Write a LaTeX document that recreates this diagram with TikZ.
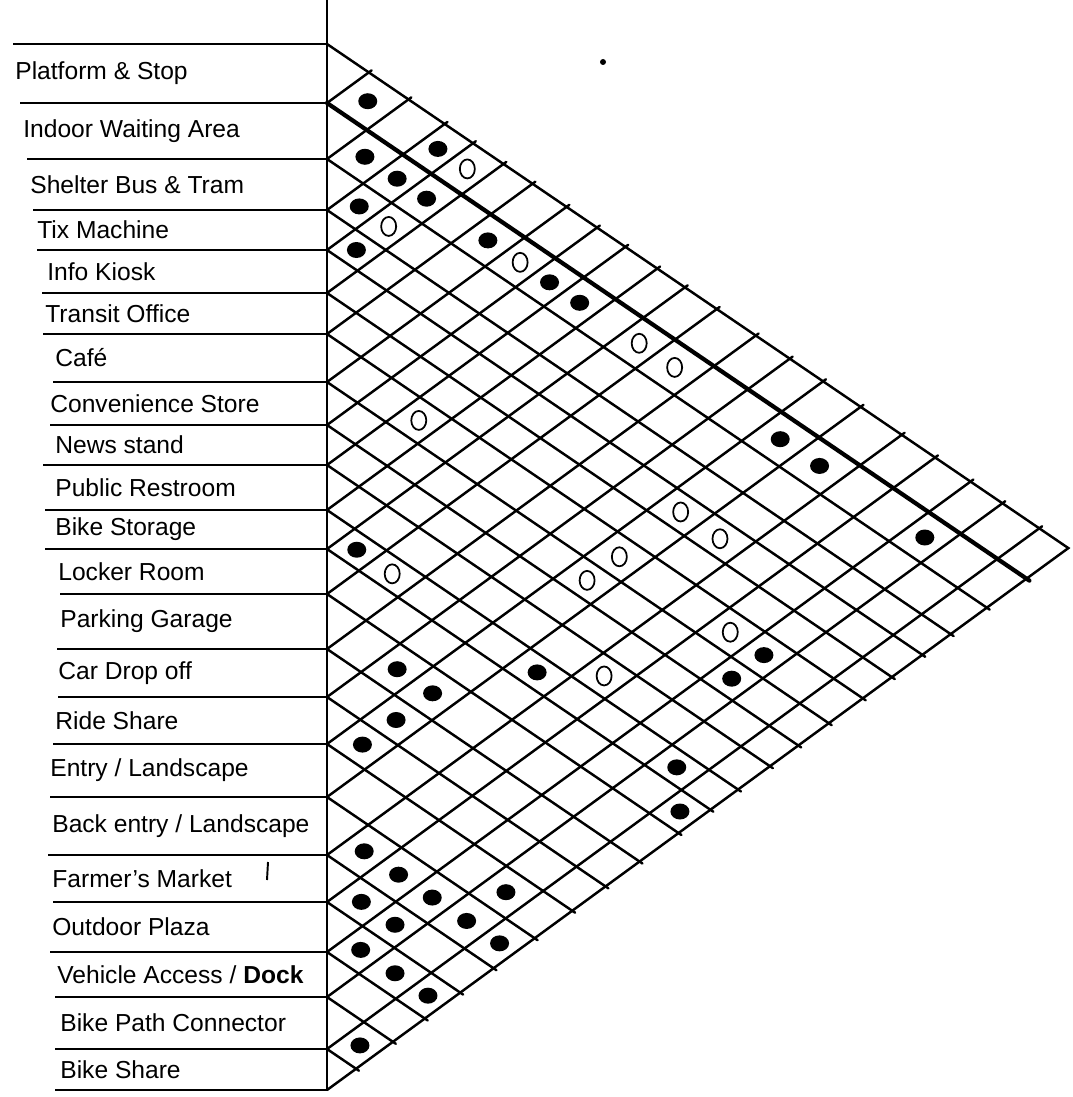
\documentclass[tikz,border=0pt]{standalone}
\usepackage{fontspec}
\setmainfont{Liberation Sans}
\usetikzlibrary{shapes.geometric}

\begin{document}
\begin{tikzpicture}[
    x=0.2mm, y=-0.2mm,
    gridline/.style={line width=1.4pt, line cap=round},
    boxline/.style={line width=1.1pt},
    rowtext/.style={
        anchor=west,
        inner sep=0pt,
        font=\fontsize{14}{16}\selectfont
    },
    fulldot/.style={
        ellipse, fill=black, inner sep=0pt,
        minimum width=3.8mm, minimum height=3.2mm
    },
    opendot/.style={
        ellipse, draw=black, line width=1pt, inner sep=0pt,
        minimum width=3mm, minimum height=3.8mm
    }
]
\useasboundingbox (0,0) rectangle (1072,1097);

% Row boundaries, in px from the top of the sheet.
\def\bnd{{44,103,159,210,250,293,334,382,425,465,510,549,594,649,697,744,797,855,902,952,997,1049,1090}}
\def\xl{327}
\def\sd{0.680} % slope of the falling diagonals
\def\su{0.731} % slope of the rising diagonals

\draw[boxline] (\xl,0) -- (\xl,1090);

\foreach \k/\xs in {
    0/13, 1/20, 2/27, 3/33, 4/37, 5/42, 6/43, 7/53, 8/50, 9/43, 10/45, 11/45,
    12/60, 13/57, 14/58, 15/53, 16/50, 17/48, 18/53, 19/50, 20/55, 21/55, 22/55
}{
    \pgfmathsetmacro\yk{\bnd[\k]}
    \pgfmathsetmacro\dt{(\yk-44)/(\sd+\su)}
    \pgfmathsetmacro\db{(1090-\yk)/(\sd+\su)}
    \coordinate (S\k) at (\xs,\yk);
    \coordinate (L\k) at (\xl,\yk);
    \coordinate (T\k) at ({\xl+\dt},{44+\sd*\dt});
    \coordinate (B\k) at ({\xl+\db},{\yk+\sd*\db});
    \draw[boxline] (S\k) -- (L\k);
}

% Outline of the half matrix, then the diagonals.
\draw[gridline] (L0) -- (B0) -- (L22);
\draw[gridline, line width=2.4pt, shorten >=-0.7mm] (L1) -- (B1);
\foreach \k in {2,...,21}{
    \draw[gridline, shorten >=-0.7mm] (L\k) -- (B\k);
}
\foreach \k in {1,...,21}{
    \draw[gridline, shorten >=-0.7mm] (L\k) -- (T\k);
}

\foreach \k/\xs/\txt in {
    1/15/{Platform \& Stop},
    2/23/{Indoor Waiting Area},
    3/30/{Shelter Bus \& Tram},
    4/37/{Tix Machine},
    5/47/{Info Kiosk},
    6/45/{Transit Office},
    7/55/{Café},
    8/50/{Convenience Store},
    9/55/{News stand},
    10/55/{Public Restroom},
    11/55/{Bike Storage},
    12/58/{Locker Room},
    13/60/{Parking Garage},
    14/58/{Car Drop off},
    15/55/{Ride Share},
    16/50/{Entry / Landscape},
    17/52/{Back entry / Landscape},
    18/52/{Farmer's Market},
    19/52/{Outdoor Plaza},
    20/57/{Vehicle Access / \textbf{Dock}},
    21/60/{Bike Path Connector},
    22/60/{Bike Share}
}{
    \pgfmathtruncatemacro\km{\k-1}
    \pgfmathsetmacro\ya{\bnd[\km]}
    \pgfmathsetmacro\yb{\bnd[\k]}
    \node[rowtext] (row\k) at (\xs,{(\ya+\yb)/2}) {\txt};
}
\draw[boxline] (268,862) -- (267,880);

% Filled marks: strong relation.
\foreach \i/\j in {
    1/2, 1/4, 2/3, 2/4, 2/5, 3/4, 4/5, 2/7, 2/9, 2/10, 2/16, 2/17, 2/20,
    11/12, 7/20, 8/20, 13/15, 13/16, 14/16, 15/16, 11/17, 11/21, 12/22,
    17/18, 17/19, 18/19, 17/20, 16/21, 18/20, 17/21, 19/20, 19/21,
    17/22, 19/22, 21/22
}{
    \pgfmathtruncatemacro\im{\i-1}
    \pgfmathtruncatemacro\jm{\j-1}
    \pgfmathsetmacro\ia{\bnd[\im]}
    \pgfmathsetmacro\ib{\bnd[\i]}
    \pgfmathsetmacro\ja{\bnd[\jm]}
    \pgfmathsetmacro\jb{\bnd[\j]}
    \pgfmathsetmacro\ci{(\ia+\ib)/2}
    \pgfmathsetmacro\dx{((\ja+\jb)/2-\ci)/(\sd+\su)}
    \node[fulldot] (f\i-\j) at ({\xl+\dx},{\ci+\sd*\dx}) {};
}

% Open marks: weak relation.
\foreach \i/\j in {
    1/5, 3/5, 2/8, 2/12, 2/13, 7/10, 11/13, 8/16, 7/16, 5/16, 5/17,
    7/19, 10/18
}{
    \pgfmathtruncatemacro\im{\i-1}
    \pgfmathtruncatemacro\jm{\j-1}
    \pgfmathsetmacro\ia{\bnd[\im]}
    \pgfmathsetmacro\ib{\bnd[\i]}
    \pgfmathsetmacro\ja{\bnd[\jm]}
    \pgfmathsetmacro\jb{\bnd[\j]}
    \pgfmathsetmacro\ci{(\ia+\ib)/2}
    \pgfmathsetmacro\dx{((\ja+\jb)/2-\ci)/(\sd+\su)}
    \node[opendot] (o\i-\j) at ({\xl+\dx},{\ci+\sd*\dx}) {};
}

\node[circle, fill=black, inner sep=0pt, minimum size=1.2mm] (speck) at (603,62) {};
\end{tikzpicture}
\end{document}
